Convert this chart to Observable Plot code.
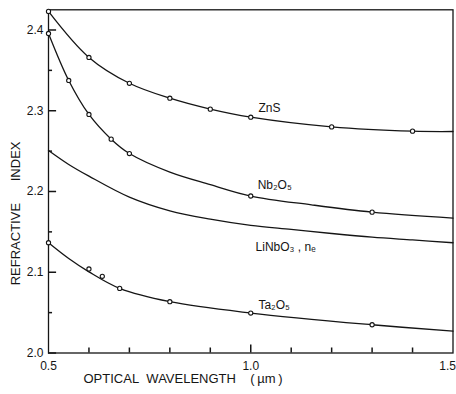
<!DOCTYPE html>
<html>
<head>
<meta charset="utf-8">
<script src="https://cdn.jsdelivr.net/npm/d3@7"></script>
<script src="https://cdn.jsdelivr.net/npm/@observablehq/plot@0.6"></script>
<style>
  html, body { margin: 0; padding: 0; background: #fff; }
  #chart svg { display: block; }
</style>
</head>
<body>
<div id="chart"></div>
<script>
// Dispersion of thin-film waveguide materials: refractive index vs. wavelength.

// ZnS: measured points and fitted curve
const znsLambda = [0.5, 0.6, 0.7, 0.8, 0.9, 1.0, 1.2, 1.4];
const znsIndex  = [2.423, 2.366, 2.334, 2.3155, 2.302, 2.292, 2.280, 2.2747];
const znsCurveLambda = [0.5, 0.6, 0.7, 0.8, 0.9, 1.0, 1.2, 1.4, 1.5];
const znsCurveIndex  = [2.423, 2.366, 2.334, 2.3155, 2.302, 2.292, 2.280, 2.2747, 2.2743];

// Nb2O5: measured points and fitted curve
const nbLambda = [0.5, 0.55, 0.6, 0.655, 0.7, 1.0, 1.3];
const nbIndex  = [2.3957, 2.3375, 2.2954, 2.2648, 2.247, 2.1944, 2.1744];
const nbCurveLambda = [0.5, 0.55, 0.6, 0.655, 0.7, 0.8, 0.9, 1.0, 1.15, 1.3, 1.5];
const nbCurveIndex  = [2.3957, 2.3375, 2.2954, 2.2648, 2.247, 2.224, 2.2085, 2.1944, 2.1835, 2.1744, 2.167];

// LiNbO3 extraordinary index: curve only
const lnCurveLambda = [0.5, 0.55, 0.6, 0.7, 0.8, 0.9, 1.0, 1.1, 1.2, 1.3, 1.4, 1.5];
const lnCurveIndex  = [2.2508, 2.2335, 2.219, 2.193, 2.176, 2.1657, 2.158, 2.153, 2.148, 2.1435, 2.140, 2.1365];

// Ta2O5: measured points and fitted curve
const taLambda = [0.5, 0.6, 0.633, 0.676, 0.8, 1.0, 1.3];
const taIndex  = [2.1365, 2.104, 2.095, 2.080, 2.0635, 2.0495, 2.035];
const taCurveLambda = [0.5, 0.55, 0.6, 0.676, 0.8, 1.0, 1.3, 1.5];
const taCurveIndex  = [2.1365, 2.117, 2.1005, 2.080, 2.0635, 2.0495, 2.035, 2.027];

// Curve labels, placed in data coordinates
const labelText   = ["ZnS", "Nb\u2082O\u2085", "LiNbO\u2083 , n\u2091", "Ta\u2082O\u2085"];
const labelLambda = [1.019, 1.017, 1.012, 1.019];
const labelIndex  = [2.3034, 2.2074, 2.1305, 2.0588];

// Axis ticks
const xLabelTicks = [0.5, 1.0];
const xEndTick    = [1.5];
const xMinorTicks = [0.6, 0.7, 0.8, 0.9, 1.1, 1.2, 1.3, 1.4];
const xMajorTicks = [1.0];
const yLabelTicks = [2.0, 2.1, 2.2, 2.3, 2.4];
const yMinorTicks = [2.05, 2.15, 2.25, 2.35];

const zip = (name, xs, ys) => xs.map((x, i) => ({series: name, lambda: x, n: ys[i]}));

const curves = [
  ...zip("ZnS", znsCurveLambda, znsCurveIndex),
  ...zip("Nb2O5", nbCurveLambda, nbCurveIndex),
  ...zip("LiNbO3", lnCurveLambda, lnCurveIndex),
  ...zip("Ta2O5", taCurveLambda, taCurveIndex)
];
const points = [
  ...zip("ZnS", znsLambda, znsIndex),
  ...zip("Nb2O5", nbLambda, nbIndex),
  ...zip("Ta2O5", taLambda, taIndex)
];
const labels = labelText.map((t, i) => ({text: t, lambda: labelLambda[i], n: labelIndex[i]}));

const ink = "#151515";
const font = "'Liberation Sans', Arial, Helvetica, sans-serif";

const chart = Plot.plot({
  width: 456,
  height: 394,
  marginLeft: 48,
  marginRight: 3.5,
  marginTop: 9.3,
  marginBottom: 41.5,
  style: {fontFamily: font, fontSize: "12px", color: ink, background: "#fff"},
  x: {domain: [0.5, 1.5]},
  y: {domain: [2.0, 2.425]},
  marks: [
    Plot.frame({stroke: ink, strokeWidth: 1.3, fill: "none"}),
    // inward tick marks (about 8 px for labelled values, 4-5 px otherwise)
    Plot.ruleY(yLabelTicks, {y: d => d, x1: 0.5, x2: 0.52, stroke: ink, strokeWidth: 1.5}),
    Plot.ruleY(yMinorTicks, {y: d => d, x1: 0.5, x2: 0.51, stroke: ink, strokeWidth: 1.5}),
    Plot.ruleX(xMinorTicks, {x: d => d, y1: 2.0, y2: 2.0062, stroke: ink, strokeWidth: 1.5}),
    Plot.ruleX(xMajorTicks, {x: d => d, y1: 2.0, y2: 2.0099, stroke: ink, strokeWidth: 1.5}),
    // tick labels
    Plot.axisY(yLabelTicks, {tickSize: 0, tickPadding: 5, tickFormat: ".1f", label: null, fontSize: 12}),
    Plot.axisX(xLabelTicks, {tickSize: 0, tickPadding: 8, tickFormat: ".1f", label: null, fontSize: 12}),
    Plot.axisX(xEndTick, {tickSize: 0, tickPadding: 8, tickFormat: ".1f", label: null, fontSize: 12, textAnchor: "end", dx: 3}),
    // dispersion curves
    Plot.line(curves, {x: "lambda", y: "n", z: "series", curve: "catmull-rom", stroke: ink, strokeWidth: 1.3}),
    Plot.dot(points, {x: "lambda", y: "n", r: 2.1, fill: "#fff", stroke: ink, strokeWidth: 1.1}),
    Plot.text(labels, {x: "lambda", y: "n", text: "text", textAnchor: "start", fontSize: 12, fill: ink}),
    // axis titles
    Plot.text(["REFRACTIVE\u00a0\u00a0\u00a0\u00a0\u00a0\u00a0INDEX"], {frameAnchor: "left", textAnchor: "middle", rotate: -90, dx: -33, dy: 32, fontSize: 13, fill: ink}),
    Plot.text(["OPTICAL\u00a0\u00a0WAVELENGTH\u00a0\u00a0\u00a0\u00a0(\u2009\u00b5m\u2009)"], {frameAnchor: "bottom-left", textAnchor: "start", dx: 35, dy: 30, fontSize: 13, fill: ink})
  ]
});

document.getElementById("chart").appendChild(chart);
</script>
</body>
</html>
